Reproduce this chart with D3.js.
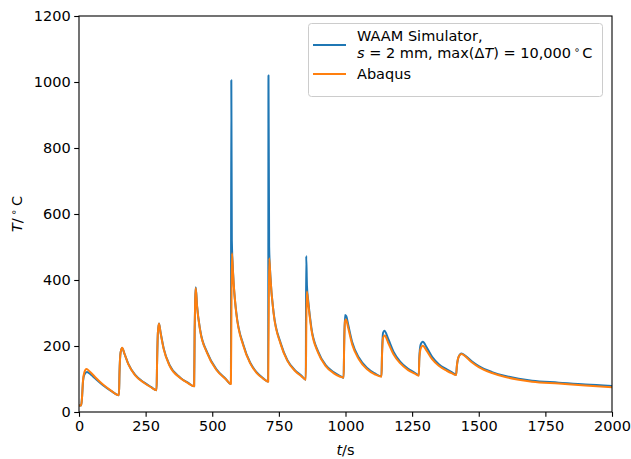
<!DOCTYPE html>
<html>
<head>
<meta charset="utf-8">
<script src="https://cdn.jsdelivr.net/npm/d3@7"></script>
<style>
  body { margin: 0; background: #fff; }
  text { font-family: "DejaVu Sans", sans-serif; }
</style>
</head>
<body>
<svg id="chart" width="631" height="459"></svg>
<script>
// ---- data ----
const xTicks = [0, 250, 500, 750, 1000, 1250, 1500, 1750, 2000];
const yTicks = [0, 200, 400, 600, 800, 1000, 1200];
const seriesNames = ["WAAM Simulator,", "Abaqus"];

const abaqusTime = [
  0, 8, 11, 15, 20, 28, 40, 60, 90, 120, 150,
  152, 156, 162, 170, 185, 210, 245, 270, 291,
  293, 296, 300, 306, 318, 340, 380, 410, 432,
  434, 436, 438, 443, 455, 480, 515, 550, 570,
  572, 574, 578, 590, 617, 642, 667, 690, 710,
  712, 714, 718, 730, 757, 782, 810, 835, 851,
  853, 855, 860, 872, 897, 925, 955, 980, 993,
  995, 998, 1002, 1010, 1025, 1050, 1080, 1110, 1135,
  1137, 1141, 1147, 1160, 1180, 1205, 1235, 1260, 1275,
  1277, 1282, 1290, 1305, 1325, 1350, 1380, 1400, 1415,
  1418, 1425, 1435, 1450, 1475, 1500, 1550, 1600, 1650, 1700, 1800, 1900, 2000
];
const abaqusTemp = [
  20, 20, 40, 95, 120, 130, 123, 106, 83, 65, 51,
  120, 180, 195, 178, 145, 112, 88, 75, 66,
  150, 240, 268, 240, 190, 140, 103, 87, 78,
  250, 340, 376, 320, 245, 180, 128, 100, 85,
  300, 481, 420, 300, 200, 148, 118, 102, 92,
  300, 466, 410, 300, 205, 155, 125, 108, 98,
  260, 365, 330, 250, 180, 140, 118, 107, 104,
  200, 275, 280, 255, 205, 160, 130, 114, 107,
  170, 225, 232, 210, 175, 148, 127, 116, 110,
  160, 192, 201, 185, 160, 140, 125, 117, 112,
  140, 168, 176, 168, 150, 136, 118, 106, 98, 92, 86, 80, 75
];

const simTime = [
  0, 8, 11, 15, 20, 30, 45, 60, 90, 120, 150,
  152, 156, 162, 170, 185, 210, 245, 270, 291,
  293, 296, 300, 306, 318, 340, 380, 410, 432,
  434, 436, 438, 443, 455, 480, 515, 550, 570,
  571.5, 573.5, 578, 590, 617, 642, 667, 690, 710,
  711, 713.5, 718, 730, 757, 782, 810, 835, 851,
  852.5, 855.5, 860, 872, 897, 925, 955, 980, 993,
  995, 998, 1003, 1010, 1025, 1050, 1080, 1110, 1135,
  1137, 1141, 1146, 1160, 1180, 1205, 1235, 1260, 1275,
  1277, 1282, 1290, 1305, 1325, 1350, 1380, 1400, 1415,
  1418, 1425, 1435, 1450, 1475, 1500, 1550, 1600, 1650, 1700, 1800, 1900, 2000
];
const simTemp = [
  20, 20, 40, 92, 113, 121, 113, 102, 81, 64, 51,
  120, 180, 194, 178, 146, 113, 89, 76, 66,
  150, 240, 268, 242, 192, 142, 104, 88, 78,
  250, 340, 378, 322, 247, 182, 130, 101, 85,
  1005, 520, 425, 303, 203, 150, 120, 103, 92,
  1020, 500, 415, 303, 208, 157, 127, 110, 98,
  473, 380, 338, 255, 184, 143, 121, 109, 104,
  210, 294, 290, 265, 212, 165, 134, 117, 108,
  175, 240, 246, 222, 183, 153, 131, 119, 111,
  165, 204, 213, 195, 167, 145, 129, 120, 113,
  140, 168, 177, 170, 153, 139, 121, 109, 101, 95, 89, 83, 79
];

// ---- layout ----
const svg = d3.select("#chart");
const margin = { left: 79, right: 19, top: 16, bottom: 47 };
const W = 631, H = 459;
const x = d3.scaleLinear().domain([0, 2000]).range([margin.left, W - margin.right]);
const y = d3.scaleLinear().domain([0, 1200]).range([H - margin.bottom, margin.top]);

svg.append("clipPath").attr("id", "plotclip").append("rect")
  .attr("x", x(0)).attr("y", y(1200)).attr("width", x(2000) - x(0)).attr("height", y(0) - y(1200));

const line = d3.line().x(d => x(d[0])).y(d => y(d[1])).curve(d3.curveMonotoneX);
const simData = simTime.map((t, i) => [t, simTemp[i]]);
const abqData = abaqusTime.map((t, i) => [t, abaqusTemp[i]]);

const colors = ["#1f77b4", "#ff7f0e"];
const g = svg.append("g").attr("clip-path", "url(#plotclip)");
g.append("path").datum(simData).attr("d", line).attr("fill", "none")
  .attr("stroke", colors[0]).attr("stroke-width", 2).attr("stroke-linejoin", "round");
g.append("path").datum(abqData).attr("d", line).attr("fill", "none")
  .attr("stroke", colors[1]).attr("stroke-width", 2).attr("stroke-linejoin", "round");

// axes
const fs = 14.5;
const xAxis = svg.append("g").attr("transform", `translate(0,${y(0)})`)
  .call(d3.axisBottom(x).tickValues(xTicks).tickSize(4.8).tickPadding(3.5).tickFormat(d3.format("d")));
const yAxis = svg.append("g").attr("transform", `translate(${x(0)},0)`)
  .call(d3.axisLeft(y).tickValues(yTicks).tickSize(4.8).tickPadding(3.5).tickFormat(d3.format("d")));
[xAxis, yAxis].forEach(a => {
  a.select(".domain").remove();
  a.selectAll("line").attr("stroke", "#000").attr("stroke-width", 1.1);
  a.selectAll("text").attr("font-size", fs).attr("fill", "#000").attr("font-family", "DejaVu Sans");
});

// frame
svg.append("rect").attr("x", x(0)).attr("y", y(1200))
  .attr("width", x(2000) - x(0)).attr("height", y(0) - y(1200))
  .attr("fill", "none").attr("stroke", "#000").attr("stroke-width", 1.1);

// axis labels
const xl = svg.append("text").attr("x", (x(0) + x(2000)) / 2).attr("y", 455)
  .attr("text-anchor", "middle").attr("font-size", fs);
xl.append("tspan").attr("font-style", "italic").text("t");
xl.append("tspan").text("/s");

const yl = svg.append("text").attr("transform", `translate(22,${(y(0) + y(1200)) / 2}) rotate(-90)`)
  .attr("text-anchor", "middle").attr("font-size", fs);
yl.append("tspan").attr("font-style", "italic").text("T");
yl.append("tspan").text("/");
yl.append("tspan").attr("font-size", 10).attr("dy", -5).attr("dx", 3).text("\u2218");
yl.append("tspan").attr("dy", 5).attr("dx", 3).text("C");

// legend
const lg = svg.append("g");
lg.append("rect").attr("x", 308.5).attr("y", 23.5).attr("width", 294).attr("height", 73)
  .attr("rx", 3).attr("fill", "#fff").attr("fill-opacity", 0.8).attr("stroke", "#ccc");
lg.append("line").attr("x1", 313).attr("x2", 346).attr("y1", 45).attr("y2", 45)
  .attr("stroke", colors[0]).attr("stroke-width", 2);
lg.append("line").attr("x1", 313).attr("x2", 346).attr("y1", 74).attr("y2", 74)
  .attr("stroke", colors[1]).attr("stroke-width", 2);
lg.append("text").attr("x", 357).attr("y", 41).attr("font-size", fs).text(seriesNames[0]);
const l2 = lg.append("text").attr("x", 357).attr("y", 57.5).attr("font-size", fs);
l2.append("tspan").attr("font-style", "italic").text("s");
l2.append("tspan").text(" = 2 mm, max(\u0394");
l2.append("tspan").attr("font-style", "italic").text("T");
l2.append("tspan").text(") = 10,000");
l2.append("tspan").attr("font-size", 10).attr("dy", -5).attr("dx", 3).text("\u2218");
l2.append("tspan").attr("dy", 5).attr("dx", 2).text("C");
lg.append("text").attr("x", 357).attr("y", 79).attr("font-size", fs).text(seriesNames[1]);
</script>
</body>
</html>
